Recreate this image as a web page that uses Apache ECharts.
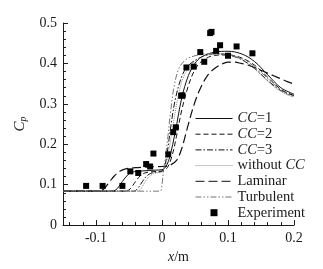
<!DOCTYPE html>
<html>
<head>
<meta charset="utf-8">
<script src="https://cdn.jsdelivr.net/npm/echarts@6/dist/echarts.min.js"></script>
<style>
  html, body { margin: 0; padding: 0; background: #fff; }
  #chart { width: 323px; height: 269px; }
</style>
</head>
<body>
<div id="chart"></div>
<script>
// x ticks
var xMajor = [-0.1, 0, 0.1, 0.2];
var xMinor = [-0.14, -0.12, -0.08, -0.06, -0.04, -0.02, 0.02, 0.04, 0.06, 0.08, 0.12, 0.14, 0.16, 0.18];

// CC=1 (solid)
var cc1X = [-0.15, -0.075, -0.068, -0.06, -0.052, -0.045, -0.03, -0.01, 0.0, 0.006, 0.012, 0.02, 0.03, 0.04, 0.05, 0.06, 0.08, 0.1, 0.12, 0.14, 0.16, 0.18, 0.2];
var cc1Y = [0.084, 0.084, 0.09, 0.108, 0.124, 0.131, 0.134, 0.136, 0.137, 0.145, 0.17, 0.23, 0.315, 0.37, 0.4, 0.416, 0.428, 0.43, 0.424, 0.405, 0.372, 0.34, 0.324];
// CC=2 (dashed)
var cc2X = [-0.15, -0.055, -0.048, -0.04, -0.033, -0.026, -0.015, 0.0, 0.008, 0.015, 0.022, 0.03, 0.04, 0.05, 0.06, 0.08, 0.1, 0.12, 0.14, 0.16, 0.18, 0.2];
var cc2Y = [0.084, 0.084, 0.09, 0.108, 0.122, 0.129, 0.132, 0.134, 0.142, 0.17, 0.22, 0.285, 0.345, 0.385, 0.405, 0.42, 0.421, 0.414, 0.396, 0.366, 0.336, 0.32];
// CC=3 (dash-dot)
var cc3X = [-0.15, -0.043, -0.037, -0.03, -0.024, -0.017, -0.008, 0.0, 0.004, 0.008, 0.013, 0.02, 0.03, 0.04, 0.06, 0.08, 0.1, 0.12, 0.14, 0.16, 0.18, 0.2];
var cc3Y = [0.084, 0.084, 0.09, 0.107, 0.12, 0.128, 0.131, 0.133, 0.145, 0.18, 0.24, 0.31, 0.368, 0.395, 0.416, 0.424, 0.421, 0.41, 0.388, 0.358, 0.333, 0.321];
// without CC (dotted)
var noX = [-0.15, -0.038, -0.032, -0.026, -0.02, -0.013, -0.005, 0.0, 0.006, 0.012, 0.018, 0.026, 0.035, 0.05, 0.07, 0.09, 0.11, 0.13, 0.15, 0.17, 0.19, 0.2];
var noY = [0.084, 0.084, 0.09, 0.106, 0.119, 0.127, 0.13, 0.132, 0.15, 0.2, 0.26, 0.33, 0.375, 0.405, 0.421, 0.423, 0.417, 0.4, 0.372, 0.342, 0.322, 0.318];
// Laminar (long dash)
var lamX = [-0.15, -0.095, -0.088, -0.08, -0.072, -0.064, -0.055, -0.04, -0.02, 0.0, 0.012, 0.022, 0.03, 0.04, 0.05, 0.06, 0.07, 0.08, 0.09, 0.1, 0.11, 0.12, 0.13, 0.14, 0.15, 0.16, 0.17, 0.18, 0.19, 0.2];
var lamY = [0.084, 0.084, 0.09, 0.106, 0.122, 0.133, 0.139, 0.142, 0.144, 0.145, 0.148, 0.16, 0.19, 0.25, 0.305, 0.345, 0.372, 0.388, 0.398, 0.403, 0.403, 0.4, 0.396, 0.39, 0.383, 0.376, 0.369, 0.362, 0.355, 0.349];
// Turbulent (dash-dot-dot)
var turX = [-0.15, -0.003, 0.0, 0.002, 0.005, 0.009, 0.013, 0.018, 0.025, 0.035, 0.05, 0.07, 0.09, 0.11, 0.13, 0.15, 0.17, 0.19, 0.2];
var turY = [0.084, 0.084, 0.1, 0.13, 0.165, 0.22, 0.28, 0.34, 0.385, 0.408, 0.419, 0.424, 0.424, 0.418, 0.404, 0.378, 0.348, 0.324, 0.318];
// Experiment
var expX = [-0.115, -0.09, -0.06, -0.048, -0.036, -0.024, -0.018, -0.013, 0.0095, 0.017, 0.021, 0.029, 0.031, 0.037, 0.048, 0.058, 0.064, 0.073, 0.075, 0.082, 0.088, 0.1, 0.113, 0.137];
var expY = [0.097, 0.097, 0.097, 0.133, 0.129, 0.151, 0.145, 0.177, 0.175, 0.23, 0.242, 0.32, 0.321, 0.39, 0.392, 0.428, 0.404, 0.475, 0.478, 0.431, 0.445, 0.419, 0.442, 0.425];

function zip(xs, ys) {
  return xs.map(function (x, i) { return [x, ys[i]]; });
}

var serif = 'Liberation Serif';
var ink = '#1a1a1a';

function lineSeries(name, xs, ys, type, color, width) {
  return {
    name: name,
    type: 'line',
    data: zip(xs, ys),
    symbol: 'none',
    smooth: 0.35,
    lineStyle: { color: color, width: width, type: type },
    itemStyle: { color: color },
    emphasis: { disabled: true },
    z: 2
  };
}

// legend entry for a line: hide the default dot, keep the line only
function lineItem(name) {
  return { name: name, itemStyle: { opacity: 0 } };
}

var chart = echarts.init(document.getElementById('chart'));
chart.setOption({
  animation: false,
  backgroundColor: '#fff',
  grid: { left: 63, right: 29, top: 23, bottom: 37 },
  legend: {
    orient: 'vertical',
    left: 190,
    top: 106,
    itemWidth: 37,
    itemHeight: 7,
    itemGap: 0.7,
    symbolKeepAspect: true,
    lineStyle: { width: 1 },
    textStyle: {
      fontFamily: serif, fontSize: 14.5, color: ink, lineHeight: 15,
      rich: { i: { fontFamily: serif, fontSize: 14.5, fontStyle: 'italic', color: ink } }
    },
    formatter: function (name) {
      return name.replace(/CC/g, '{i|CC}');
    },
    data: [
      lineItem('CC=1'), lineItem('CC=2'), lineItem('CC=3'), lineItem('without CC'),
      lineItem('Laminar'), lineItem('Turbulent'),
      { name: 'Experiment', icon: 'path://M0,0h1v1h-1z' }
    ]
  },
  xAxis: [{
    type: 'value',
    min: -0.15,
    max: 0.2,
    name: '{i|x}/m',
    nameLocation: 'middle',
    nameGap: 24,
    nameTextStyle: {
      fontFamily: serif, fontSize: 14, color: ink,
      rich: { i: { fontFamily: serif, fontSize: 14, fontStyle: 'italic', color: ink } }
    },
    axisLine: { onZero: false, lineStyle: { color: ink, width: 1 } },
    axisTick: { inside: true, length: 5, customValues: xMajor, lineStyle: { color: ink } },
    axisLabel: {
      customValues: xMajor, margin: 6,
      fontFamily: serif, fontSize: 14, color: ink,
      formatter: function (v) { return v === 0 ? '0' : String(+v.toFixed(2)); }
    },
    splitLine: { show: false }
  }, {
    type: 'value',
    min: -0.15,
    max: 0.2,
    position: 'bottom',
    axisLine: { show: false, onZero: false },
    axisTick: { inside: true, length: 3, customValues: xMinor, lineStyle: { color: ink } },
    axisLabel: { show: false, customValues: xMinor },
    splitLine: { show: false }
  }],
  yAxis: {
    type: 'value',
    min: 0,
    max: 0.5,
    interval: 0.1,
    name: '{i|C}{s|p}',
    nameLocation: 'middle',
    nameRotate: 90,
    nameGap: 31,
    nameTextStyle: {
      color: ink,
      rich: {
        i: { fontFamily: serif, fontSize: 15, fontStyle: 'italic', color: ink },
        s: { fontFamily: serif, fontSize: 10, fontStyle: 'italic', color: ink, verticalAlign: 'bottom', padding: [8, 0, 0, 0] }
      }
    },
    axisLine: { show: true, onZero: false, lineStyle: { color: ink, width: 1 } },
    axisTick: { inside: true, length: 5, lineStyle: { color: ink } },
    minorTick: { show: true, splitNumber: 5, length: 3, lineStyle: { color: ink } },
    axisLabel: {
      margin: 6, fontFamily: serif, fontSize: 14, color: ink,
      formatter: function (v) { return v === 0 ? '0' : String(+v.toFixed(1)); }
    },
    splitLine: { show: false }
  },
  series: [
    lineSeries('CC=1', cc1X, cc1Y, 'solid', '#111', 1),
    lineSeries('CC=2', cc2X, cc2Y, [5, 3], '#111', 1),
    lineSeries('CC=3', cc3X, cc3Y, [6, 2, 1.5, 2], '#111', 1),
    lineSeries('without CC', noX, noY, [1, 1], '#8a8a8a', 1),
    lineSeries('Laminar', lamX, lamY, [9, 4], '#111', 1.2),
    lineSeries('Turbulent', turX, turY, [6, 2, 1.5, 2, 1.5, 2], '#777', 1),
    {
      name: 'Experiment',
      type: 'scatter',
      data: zip(expX, expY),
      symbol: 'rect',
      symbolSize: 6,
      itemStyle: { color: '#000', opacity: 1 },
      emphasis: { disabled: true },
      z: 3
    }
  ]
});
</script>
</body>
</html>
